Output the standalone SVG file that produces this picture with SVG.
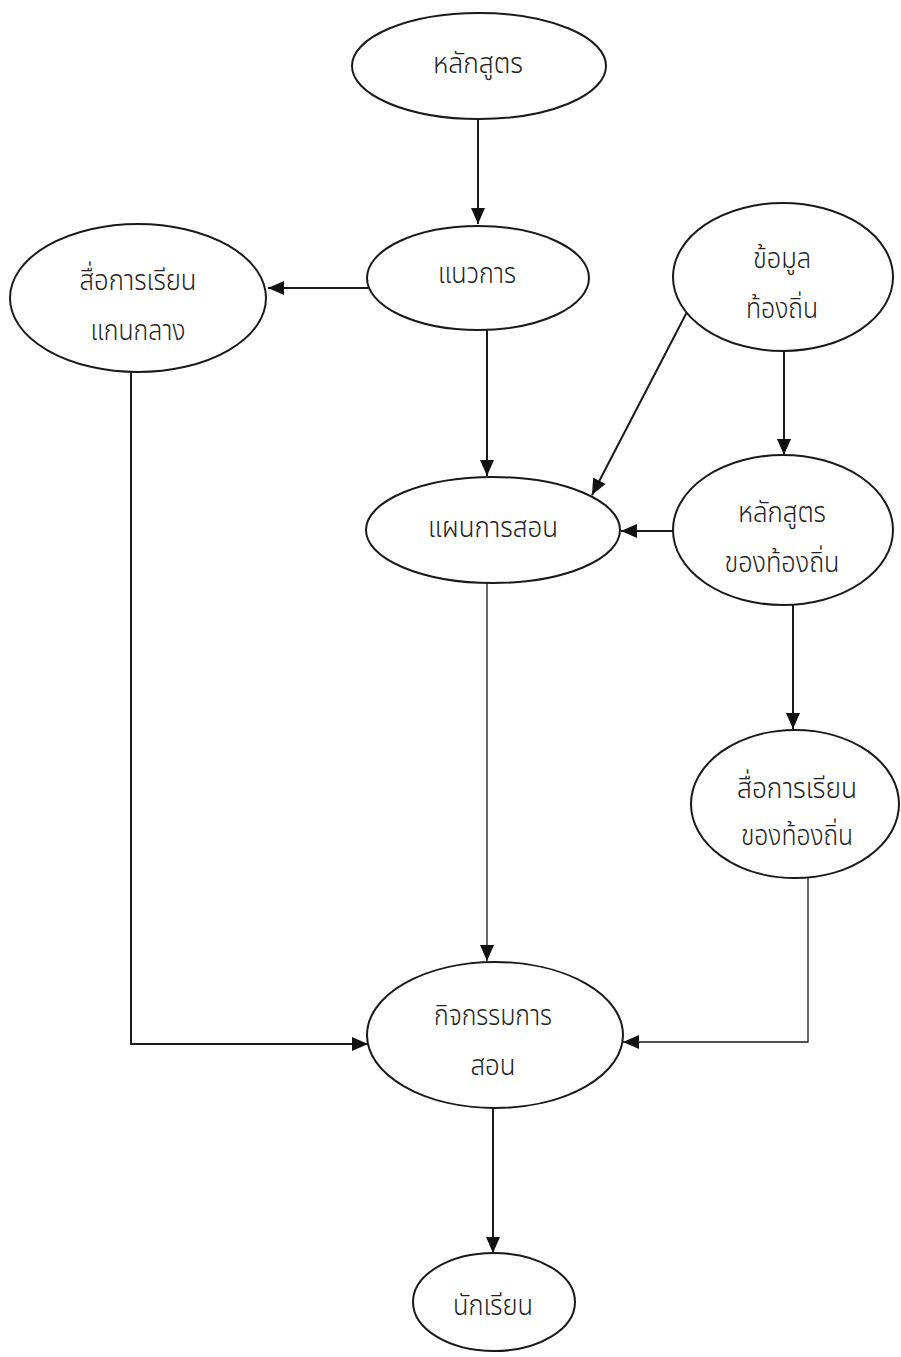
<svg xmlns="http://www.w3.org/2000/svg" width="901" height="1357" viewBox="0 0 901 1357">
<style>
.node ellipse{fill:#fff;stroke:#1a1a1a;stroke-width:2}
.node text{font-family:"Noto Sans Thai","Noto Sans","DejaVu Sans",sans-serif;font-size:29px;font-weight:300;fill:#222;text-anchor:middle}
.edge{fill:none;stroke:#1a1a1a;stroke-width:2}
.thin{stroke-width:1.3}
</style>
<defs>
<marker id="arr" markerUnits="userSpaceOnUse" markerWidth="18" markerHeight="16" refX="16" refY="8" orient="auto">
<path d="M0,1 L16,8 L0,15 Z" fill="#111"/>
</marker>
</defs>
<rect width="901" height="1357" fill="#fff"/>
<g id="connectors">
<path class="edge" d="M478,118 L478,224" marker-end="url(#arr)"/>
<path class="edge" d="M370,288 L268,288" marker-end="url(#arr)"/>
<path class="edge" d="M487,330 L487,476" marker-end="url(#arr)"/>
<path class="edge" d="M688,310 L592,495" marker-end="url(#arr)"/>
<path class="edge" d="M784,351 L784,455" marker-end="url(#arr)"/>
<path class="edge" d="M673,531 L621,531" marker-end="url(#arr)"/>
<path class="edge" d="M793,604 L793,729" marker-end="url(#arr)"/>
<path class="edge thin" d="M487,583 L487,961" marker-end="url(#arr)"/>
<path class="edge" d="M131,372 L131,1044 L368,1044" marker-end="url(#arr)"/>
<path class="edge thin" d="M808,877 L808,1042 L623,1042" marker-end="url(#arr)"/>
<path class="edge" d="M493,1107 L493,1253" marker-end="url(#arr)"/>
</g>
<g id="n1" class="node"><ellipse cx="479" cy="66" rx="127" ry="53"/><text x="478" y="73" textLength="90" lengthAdjust="spacingAndGlyphs">หลักสูตร</text></g>
<g id="n2" class="node"><ellipse cx="478" cy="278" rx="111" ry="52"/><text x="477" y="283" textLength="78" lengthAdjust="spacingAndGlyphs">แนวการ</text></g>
<g id="n3" class="node"><ellipse cx="138" cy="298" rx="128" ry="74"/><text x="138" y="290" textLength="117" lengthAdjust="spacingAndGlyphs">สื่อการเรียน</text><text x="138" y="340" textLength="95" lengthAdjust="spacingAndGlyphs">แกนกลาง</text></g>
<g id="n4" class="node"><ellipse cx="783" cy="277" rx="110" ry="74"/><text x="782" y="268" textLength="58" lengthAdjust="spacingAndGlyphs">ข้อมูล</text><text x="782" y="318" textLength="72" lengthAdjust="spacingAndGlyphs">ท้องถิ่น</text></g>
<g id="n5" class="node"><ellipse cx="493" cy="530" rx="127" ry="53"/><text x="493" y="537" textLength="130" lengthAdjust="spacingAndGlyphs">แผนการสอน</text></g>
<g id="n6" class="node"><ellipse cx="783" cy="530" rx="110" ry="75"/><text x="782" y="522" textLength="88" lengthAdjust="spacingAndGlyphs">หลักสูตร</text><text x="782" y="572" textLength="115" lengthAdjust="spacingAndGlyphs">ของท้องถิ่น</text></g>
<g id="n7" class="node"><ellipse cx="795" cy="804" rx="104" ry="74"/><text x="797" y="798" textLength="120" lengthAdjust="spacingAndGlyphs">สื่อการเรียน</text><text x="797" y="845" textLength="112" lengthAdjust="spacingAndGlyphs">ของท้องถิ่น</text></g>
<g id="n8" class="node"><ellipse cx="495" cy="1035" rx="128" ry="73"/><text x="493" y="1025" textLength="118" lengthAdjust="spacingAndGlyphs">กิจกรรมการ</text><text x="493" y="1075" textLength="45" lengthAdjust="spacingAndGlyphs">สอน</text></g>
<g id="n9" class="node"><ellipse cx="494" cy="1302" rx="81" ry="49"/><text x="493" y="1315" textLength="80" lengthAdjust="spacingAndGlyphs">นักเรียน</text></g>
</svg>
